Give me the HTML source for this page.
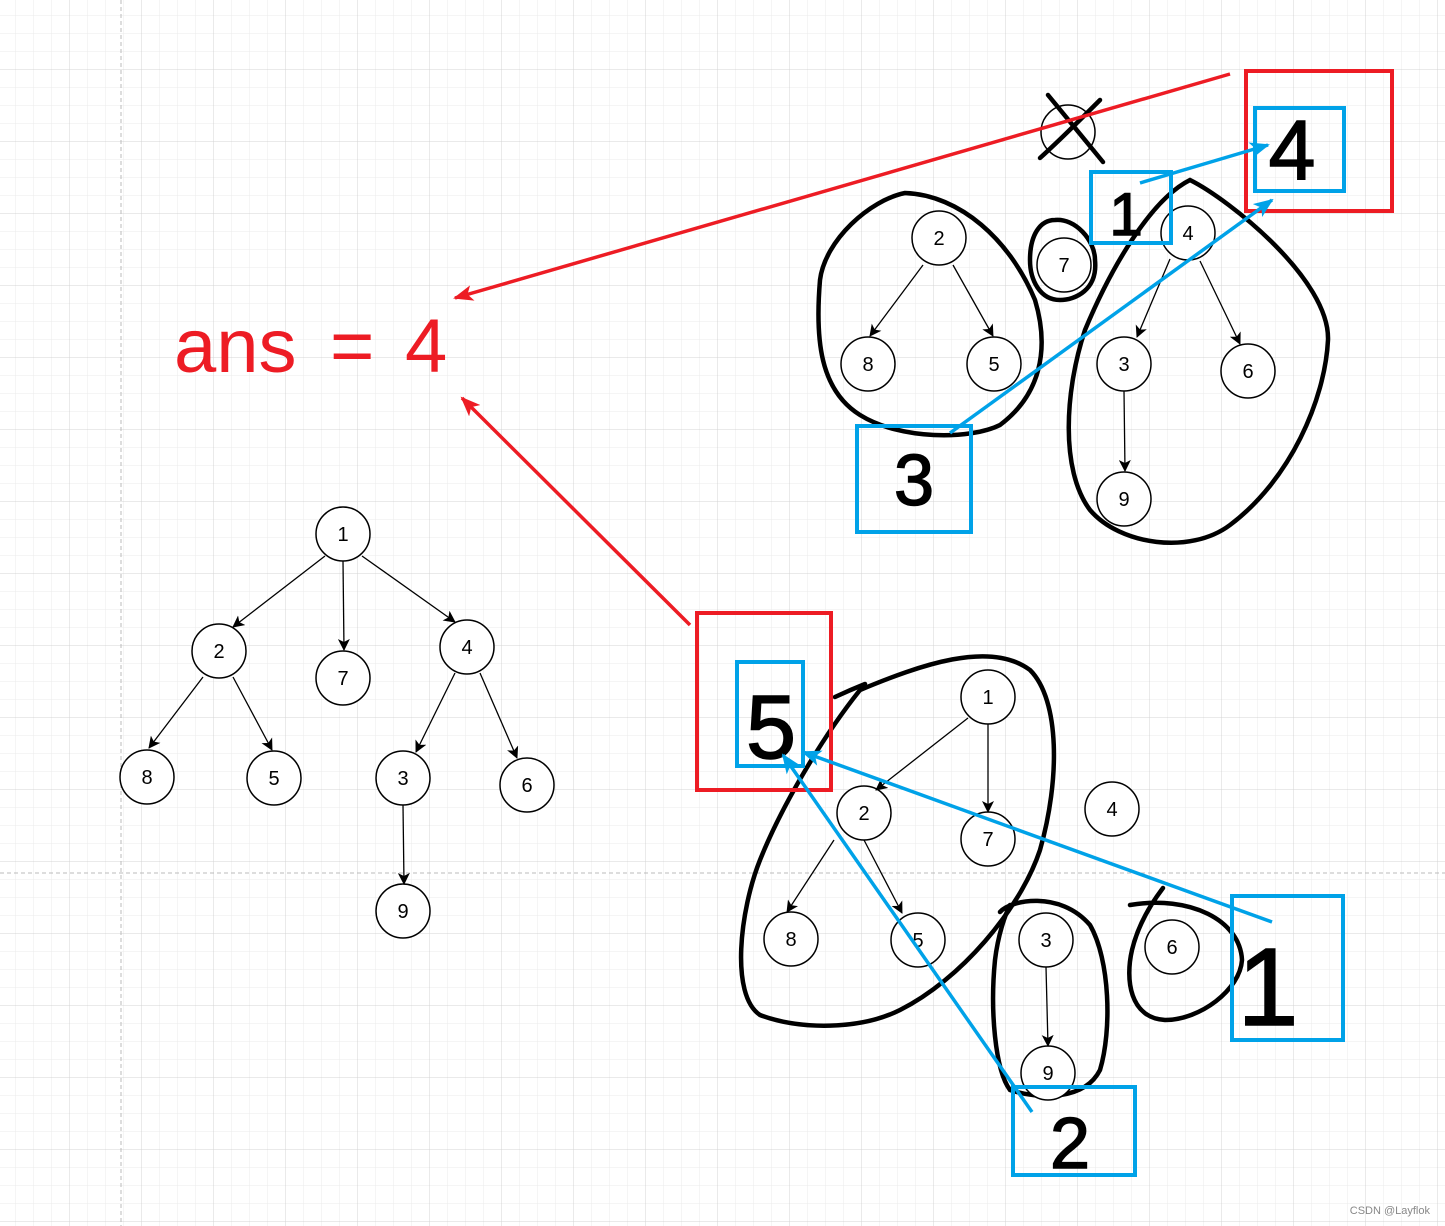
<!DOCTYPE html>
<html><head><meta charset="utf-8"><style>
html,body{margin:0;padding:0;background:#fff}
svg{display:block}
text{font-family:"Liberation Sans",sans-serif}
</style></head><body>
<svg width="1445" height="1226" viewBox="0 0 1445 1226" xmlns="http://www.w3.org/2000/svg">
<defs>
<pattern id="minor" x="-2" y="-2" width="18" height="18" patternUnits="userSpaceOnUse">
<path d="M18 0V18M0 18H18" fill="none" stroke="#ebebeb" stroke-width="1"/>
</pattern>
<pattern id="major" x="-2" y="-2" width="72" height="72" patternUnits="userSpaceOnUse">
<path d="M72 0V72M0 72H72" fill="none" stroke="#d4d4d4" stroke-width="1"/>
</pattern>
<marker id="ab" markerWidth="12" markerHeight="12" refX="11" refY="6" orient="auto" markerUnits="userSpaceOnUse">
<path d="M0,0 L12,6 L0,12 L3,6 Z" fill="#000"/></marker>
<marker id="ar" markerWidth="20" markerHeight="16" refX="18" refY="8" orient="auto" markerUnits="userSpaceOnUse">
<path d="M0,0 L20,8 L0,16 L5,8 Z" fill="#ed1c24"/></marker>
<marker id="au" markerWidth="20" markerHeight="16" refX="18" refY="8" orient="auto" markerUnits="userSpaceOnUse">
<path d="M0,0 L20,8 L0,16 L5,8 Z" fill="#00a2e8"/></marker>
</defs>
<rect width="1445" height="1226" fill="url(#minor)"/>
<rect width="1445" height="1226" fill="url(#major)"/>
<line x1="121" y1="0" x2="121" y2="1226" stroke="#bbb" stroke-dasharray="4,3"/>
<line x1="0" y1="873" x2="1445" y2="873" stroke="#bbb" stroke-dasharray="4,3"/>

<g fill="none" stroke="#000" stroke-width="4.5" stroke-linecap="round">
<path d="M905,193 C960,195 1010,240 1035,300 C1050,350 1040,395 1000,425 C970,440 900,440 860,415 C820,390 815,340 820,280 C825,240 870,200 905,193 Z"/>
<path d="M1055,220 C1075,218 1095,240 1095,260 C1098,290 1075,300 1060,300 C1040,300 1030,280 1030,260 C1030,235 1040,220 1055,220 Z"/>
<path d="M1190,180 C1230,200 1330,280 1328,340 C1325,400 1290,480 1230,525 C1190,555 1120,545 1090,510 C1060,470 1065,390 1085,330 C1110,270 1150,200 1190,180 Z"/>
<path d="M860,690 C920,665 990,640 1030,670 C1060,700 1060,780 1040,850 C1020,910 960,980 900,1010 C860,1030 800,1030 760,1015 C730,995 740,910 760,860 C780,810 820,740 860,690"/>
<path d="M835,697 C850,690 860,686 865,684"/>
<path d="M1000,912 C1010,900 1060,890 1090,925 C1110,960 1112,1030 1100,1070 C1085,1100 1040,1100 1010,1090 C995,1070 990,1010 995,960 C998,935 1005,915 1010,905"/>
<path d="M1130,905 C1190,895 1240,920 1242,960 C1240,990 1200,1020 1165,1020 C1130,1018 1125,980 1132,950 C1138,925 1150,905 1163,888"/>
<path d="M1048,95 L1103,162 M1040,158 C1060,140 1080,120 1100,100"/>
</g>

<g fill="#fff" stroke="#000" stroke-width="1.5">
<circle cx="1068" cy="132" r="27" fill="none"/>
<circle cx="939" cy="238" r="27"/><circle cx="868" cy="364" r="27"/><circle cx="994" cy="364" r="27"/>
<circle cx="1064" cy="265" r="27"/><circle cx="1188" cy="233" r="27"/><circle cx="1124" cy="364" r="27"/>
<circle cx="1248" cy="371" r="27"/><circle cx="1124" cy="499" r="27"/>
<circle cx="343" cy="534" r="27"/><circle cx="219" cy="651" r="27"/><circle cx="343" cy="678" r="27"/>
<circle cx="467" cy="647" r="27"/><circle cx="147" cy="777" r="27"/><circle cx="274" cy="778" r="27"/>
<circle cx="403" cy="778" r="27"/><circle cx="527" cy="785" r="27"/><circle cx="403" cy="911" r="27"/>
<circle cx="988" cy="697" r="27"/><circle cx="864" cy="813" r="27"/><circle cx="988" cy="839" r="27"/>
<circle cx="1112" cy="809" r="27"/><circle cx="791" cy="939" r="27"/><circle cx="918" cy="940" r="27"/>
<circle cx="1046" cy="940" r="27"/><circle cx="1048" cy="1073" r="27"/><circle cx="1172" cy="947" r="27"/>
</g>
<g font-size="20" text-anchor="middle" fill="#000">
<text x="939" y="245">2</text><text x="868" y="371">8</text><text x="994" y="371">5</text>
<text x="1064" y="272">7</text><text x="1188" y="240">4</text><text x="1124" y="371">3</text>
<text x="1248" y="378">6</text><text x="1124" y="506">9</text>
<text x="343" y="541">1</text><text x="219" y="658">2</text><text x="343" y="685">7</text>
<text x="467" y="654">4</text><text x="147" y="784">8</text><text x="274" y="785">5</text>
<text x="403" y="785">3</text><text x="527" y="792">6</text><text x="403" y="918">9</text>
<text x="988" y="704">1</text><text x="864" y="820">2</text><text x="988" y="846">7</text>
<text x="1112" y="816">4</text><text x="791" y="946">8</text><text x="918" y="947">5</text>
<text x="1046" y="947">3</text><text x="1048" y="1080">9</text><text x="1172" y="954">6</text>
</g>
<g stroke="#000" stroke-width="1.3" marker-end="url(#ab)">
<line x1="923" y1="265" x2="870" y2="336"/><line x1="953" y1="265" x2="993" y2="336"/>
<line x1="1170" y1="259" x2="1137" y2="337"/><line x1="1200" y1="261" x2="1240" y2="344"/>
<line x1="1124" y1="391" x2="1125" y2="471"/>
<line x1="325" y1="556" x2="233" y2="627"/><line x1="343" y1="561" x2="344" y2="650"/>
<line x1="362" y1="556" x2="455" y2="622"/><line x1="203" y1="677" x2="149" y2="748"/>
<line x1="233" y1="677" x2="272" y2="750"/><line x1="455" y1="673" x2="416" y2="752"/>
<line x1="480" y1="673" x2="517" y2="758"/><line x1="403" y1="805" x2="404" y2="884"/>
<line x1="968" y1="718" x2="876" y2="790"/><line x1="988" y1="724" x2="988" y2="812"/>
<line x1="834" y1="840" x2="787" y2="912"/><line x1="864" y1="840" x2="902" y2="913"/>
<line x1="1046" y1="967" x2="1048" y2="1046"/>
</g>

<g fill="none" stroke-width="4">
<rect x="1246" y="71" width="146" height="140" stroke="#ed1c24"/>
<rect x="697" y="613" width="134" height="177" stroke="#ed1c24"/>
<g stroke="#00a2e8">
<rect x="1255" y="108" width="89" height="83"/>
<rect x="1091" y="172" width="80" height="71"/>
<rect x="857" y="426" width="114" height="106"/>
<rect x="737" y="662" width="66" height="104"/>
<rect x="1232" y="896" width="111" height="144"/>
<rect x="1013" y="1087" width="122" height="88"/>
</g>
</g>
<g font-size="84" fill="#000" text-anchor="middle" stroke="#000" stroke-width="1.5">
<text x="1292" y="179">4</text>
<text x="1126" y="235" font-size="60">1</text>
<text x="914" y="505" font-size="72">3</text>
<text x="771" y="758" font-size="90">5</text>
<text x="1268" y="1025" font-size="110">1</text>
<text x="1070" y="1168" font-size="72">2</text>
</g>

<g stroke-width="3.5" fill="none">
<line x1="1230" y1="74" x2="455" y2="298" stroke="#ed1c24" marker-end="url(#ar)"/>
<line x1="690" y1="625" x2="462" y2="398" stroke="#ed1c24" marker-end="url(#ar)"/>
<line x1="1140" y1="183" x2="1268" y2="145" stroke="#00a2e8" marker-end="url(#au)"/>
<line x1="950" y1="433" x2="1272" y2="200" stroke="#00a2e8" marker-end="url(#au)"/>
<line x1="1272" y1="922" x2="803" y2="752" stroke="#00a2e8" marker-end="url(#au)"/>
<line x1="1032" y1="1112" x2="783" y2="755" stroke="#00a2e8" marker-end="url(#au)"/>
</g>

<g font-size="76" fill="#ed1c24">
<text x="174" y="372">ans</text>
<text x="330" y="372">=</text>
<text x="405" y="372">4</text>
</g>
<text x="1430" y="1214" font-size="11" fill="#888" text-anchor="end">CSDN @Layflok</text>
</svg>
</body></html>
